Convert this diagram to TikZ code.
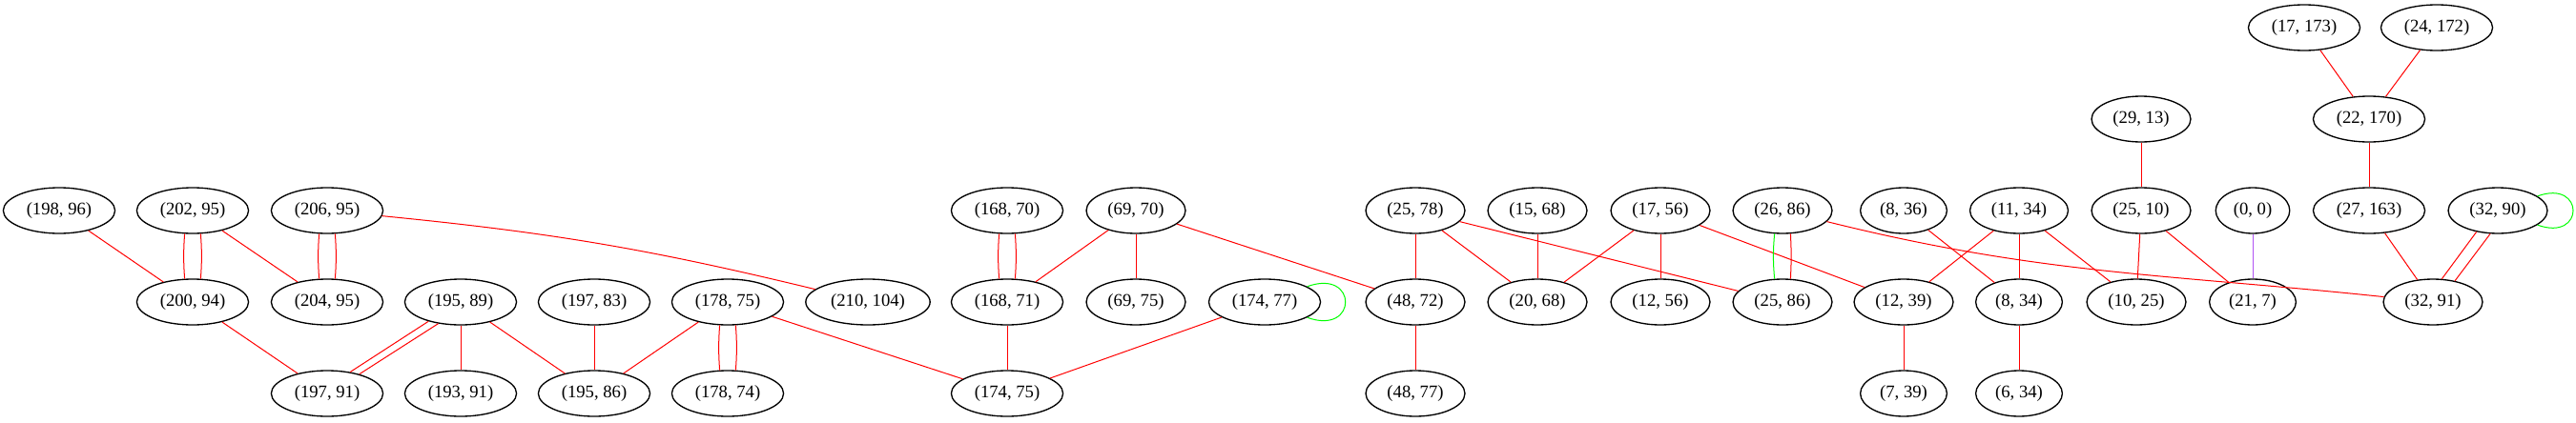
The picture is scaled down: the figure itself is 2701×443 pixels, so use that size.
\documentclass[tikz,border=0pt]{standalone}
\usepackage{fontspec}
\setmainfont{Liberation Serif}
\usetikzlibrary{shapes.geometric}
\definecolor{loopgreen}{RGB}{0,255,0}
\definecolor{edgepurple}{RGB}{176,84,244}
\begin{document}
\begin{tikzpicture}[x=0.75pt, y=-0.75pt,
    every node/.style={ellipse, draw, line width=1pt, inner xsep=5.4pt, inner ysep=1pt,
      minimum width=54pt, minimum height=36pt, font=\fontsize{14}{16}\selectfont},
    selfloop/.style={loopgreen, out=20, in=-20, looseness=4.5}]
  \useasboundingbox (0,0) rectangle (2701,443);
      \draw
        (62,221) node (198-96){(198, 96)}
        (202,221) node (202-95){(202, 95)}
        (343,221) node (206-95){(206, 95)}
        (202,317) node (200-94){(200, 94)}
        (343,317) node (204-95){(204, 95)}
        (483,317) node (195-89){(195, 89)}
        (623,317) node (197-83){(197, 83)}
        (343,413) node (197-91){(197, 91)}
        (483,413) node (193-91){(193, 91)}
        (623,413) node (195-86){(195, 86)}
        (763,317) node (178-75){(178, 75)}
        (910,317) node (210-104){(210, 104)}
        (763,413) node (178-74){(178, 74)}
        (1056,221) node (168-70){(168, 70)}
        (1191,221) node (69-70){(69, 70)}
        (1056,317) node (168-71){(168, 71)}
        (1191,317) node (69-75){(69, 75)}
        (1326,317) node (174-77){(174, 77)}
        (1056,413) node (174-75){(174, 75)}
        (1484,221) node (25-78){(25, 78)}
        (1484,317) node (48-72){(48, 72)}
        (1484,413) node (48-77){(48, 77)}
        (1612,221) node (15-68){(15, 68)}
        (1612,317) node (20-68){(20, 68)}
        (1741,221) node (17-56){(17, 56)}
        (1741,317) node (12-56){(12, 56)}
        (1869,221) node (26-86){(26, 86)}
        (1869,317) node (25-86){(25, 86)}
        (1996,221) node (8-36){(8, 36)}
        (1996,317) node (12-39){(12, 39)}
        (1996,413) node (7-39){(7, 39)}
        (2117,221) node (11-34){(11, 34)}
        (2117,317) node (8-34){(8, 34)}
        (2117,413) node (6-34){(6, 34)}
        (2245,125) node (29-13){(29, 13)}
        (2245,221) node (25-10){(25, 10)}
        (2240,317) node (10-25){(10, 25)}
        (2362,221) node (0-0){(0, 0)}
        (2362,317) node (21-7){(21, 7)}
        (2416,29) node (17-173){(17, 173)}
        (2555,29) node (24-172){(24, 172)}
        (2484,125) node (22-170){(22, 170)}
        (2484,221) node (27-163){(27, 163)}
        (2619,221) node (32-90){(32, 90)}
        (2551,317) node (32-91){(32, 91)};
      \begin{scope}[red, line width=0.75pt]
        \draw (198-96) to (200-94);
        \draw (202-95.251) to[bend right=4] (200-94.109);
        \draw (202-95.289) to[bend left=4] (200-94.71);
        \draw (202-95) to (204-95);
        \draw (206-95.251) to[bend right=4] (204-95.109);
        \draw (206-95.289) to[bend left=4] (204-95.71);
        \draw (206-95) to[bend left=4] (210-104);
        \draw (200-94) to (197-91);
        \draw (195-89.211) to (197-91.43);
        \draw (195-89.224) to (197-91.31);
        \draw (195-89) to (193-91);
        \draw (195-89) to (195-86);
        \draw (197-83) to (195-86);
        \draw (178-75) to (195-86);
        \draw (178-75.251) to[bend right=4] (178-74.109);
        \draw (178-75.289) to[bend left=4] (178-74.71);
        \draw (178-75) to (174-75);
        \draw (168-70.251) to[bend right=4] (168-71.109);
        \draw (168-70.289) to[bend left=4] (168-71.71);
        \draw (69-70) to (168-71);
        \draw (69-70) to (69-75);
        \draw (69-70) to (48-72);
        \draw (168-71) to (174-75);
        \draw (174-77) to (174-75);
        \draw (25-78) to (48-72);
        \draw (25-78) to (20-68);
        \draw (25-78) to (25-86);
        \draw (48-72) to (48-77);
        \draw (15-68) to (20-68);
        \draw (17-56) to (20-68);
        \draw (17-56) to (12-56);
        \draw (17-56) to (12-39);
        \draw (26-86.289) to[bend left=3] (25-86.71);
        \draw (26-86) to[out=-14, in=174] (32-91);
        \draw (8-36) to (8-34);
        \draw (11-34) to (12-39);
        \draw (11-34) to (8-34);
        \draw (11-34) to (10-25);
        \draw (12-39) to (7-39);
        \draw (8-34) to (6-34);
        \draw (29-13) to (25-10);
        \draw (25-10) to (10-25);
        \draw (25-10) to (21-7);
        \draw (17-173) to (22-170);
        \draw (24-172) to (22-170);
        \draw (22-170) to (27-163);
        \draw (27-163) to (32-91);
        \draw (32-90.225) to (32-91.69);
        \draw (32-90.252) to (32-91.44);
      \end{scope}
      \begin{scope}[line width=0.75pt]
        \draw[loopgreen] (26-86.251) to[bend right=5] (25-86.109);
        \draw[edgepurple] (0-0) to (21-7);
        \draw[selfloop] (174-77) to (174-77);
        \draw[selfloop] (32-90) to (32-90);
      \end{scope}
    \end{tikzpicture}
\end{document}
